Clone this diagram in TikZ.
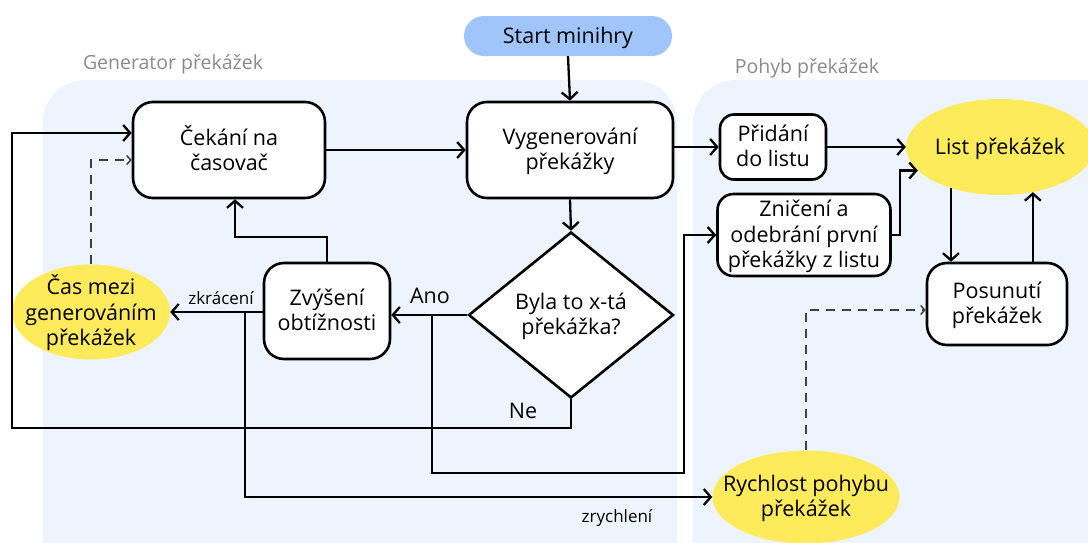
\documentclass[tikz,border=0pt]{standalone}
\usepackage{fontspec}
\setmainfont{Open Sans}
\usetikzlibrary{arrows.meta,shapes.geometric,calc}
\definecolor{regionblue}{HTML}{EEF4FE}
\definecolor{startblue}{HTML}{9FC5FB}
\definecolor{yel}{HTML}{FEEB5C}
\definecolor{labgray}{HTML}{8A8A8A}
\definecolor{dashgray}{HTML}{404040}
\newcommand\nf{\fontsize{21.5}{25.5}\selectfont}
\newcommand\ztext[1]{\smash{\makebox[0pt]{\raisebox{-0.33em}{\begin{tabular}{@{}c@{}}#1\end{tabular}}}}}
\begin{document}
\begin{tikzpicture}[x=1pt,y=-1pt,
  box/.style={draw, line width=2.6pt, rounded corners=20pt, fill=white, font=\nf, inner sep=0pt},
  term/.style={fill=startblue, rounded corners=20pt, font=\nf, inner sep=0pt, minimum width=208pt, minimum height=40pt},
  oval/.style={ellipse, fill=yel, font=\nf, inner sep=0pt},
  dia/.style={diamond, draw, line width=2.6pt, fill=white, font=\nf, inner sep=0pt, minimum width=205pt, minimum height=166pt},
  arr/.style={line width=2.3pt, -{Straight Barb[length=7pt,width=16pt]}},
  darr/.style={line width=1.5pt, dash pattern=on 9pt off 7pt, draw=dashgray, -{Straight Barb[length=4pt,width=9pt]}},
  lab/.style={font=\nf, inner sep=0pt},
  slab/.style={font=\fontsize{17}{20}\selectfont, inner sep=0pt},
  rlab/.style={font=\fontsize{19.5}{22}\selectfont, text=labgray, inner sep=0pt}
]
\useasboundingbox (0,0) rectangle (1088,542);
\begin{scope}
\clip (0,0) rectangle (1088,542);
\fill[regionblue, rounded corners=42pt] (43,80) rectangle (677,620);
\fill[regionblue, rounded corners=42pt] (693,80) rectangle (1140,620);
\end{scope}
\node[rlab] (lgen) at (173,64) {Generator překážek};
\node[rlab] (lpoh) at (807,68) {Pohyb překážek};

% nodes
\node[term] (start) at (568,36) {\ztext{Start minihry}};
\node[box, minimum width=192pt, minimum height=96pt] (wait) at (229,150) {\ztext{Čekání na\\časovač}};
\node[box, minimum width=206pt, minimum height=96pt] (gen) at (570,150) {\ztext{Vygenerování\\překážky}};
\node[dia] (dec) at (571,315) {\ztext{Byla to x-tá\\překážka?}};
\node[box, minimum width=126pt, minimum height=96pt] (inc) at (327,311) {\ztext{Zvýšení\\obtížnosti}};
\node[oval, minimum width=158pt, minimum height=95pt] (cas) at (91,312) {\ztext{Čas mezi\\generováním\\překážek}};
\node[box, rounded corners=14pt, minimum width=106pt, minimum height=65pt] (add) at (773,147) {\ztext{Přidání\\do listu}};
\node[box, rounded corners=16pt, minimum width=173pt, minimum height=82pt] (del) at (804,235) {\ztext{Zničení a\\odebrání první\\překážky z listu}};
\node[oval, minimum width=188pt, minimum height=96pt] (list) at (1000,147) {\ztext{List překážek}};
\node[box, minimum width=140pt, minimum height=82pt] (move) at (997,304) {\ztext{Posunutí\\překážek}};
\node[oval, minimum width=187pt, minimum height=93pt] (speed) at (806,497) {\ztext{Rychlost pohybu\\překážek}};

% connectors
\draw[arr] (start.south) -- (gen.north);
\draw[arr] (wait.east) -- (gen.west);
\draw[arr] (gen.south) -- (dec.north);
\draw[arr] (gen.east |- add.west) -- (add.west);
\draw[arr] (add.east) -- (add.east -| list.west);
\draw[arr] (del.east) -- ++(8,0) |- (list.196);
\draw[arr] (list.220) -- (list.220 |- move.north);
\draw[arr] (list.306 |- move.north) -- (list.306);
% Ano
\draw[arr] (dec.west) -- (dec.west -| inc.east);
\node[lab] (ano) at (430,296) {Ano};
\coordinate (j1) at (432,315);
\draw[arr] (j1) -- (432,473) -| (684,235) -- (del.west);
% Ne
\draw[arr] (dec.south) -- (571,428) -| (12,133) -- ($(wait.west)+(0,-17)$);
\node[lab] (ne) at (523,411) {Ne};
% increase -> wait
\draw[arr] (inc.north) -- (327,237) -| ($(wait.south)+(6,0)$);
% zkraceni
\draw[arr] (inc.west |- cas.east) -- (cas.east);
\node[slab] (zk) at (221,298) {zkrácení};
\coordinate (j2) at (245,312);
\draw[arr] (j2) |- (speed.west);
\node[slab] (zr) at (617,518) {zrychlení};
% dashed
\draw[darr] (cas.north) -- (91,160) -- ($(wait.west)+(0,10)$);
\draw[darr] (speed.north) -- (806,310) -- ($(move.west)+(0,6)$);
\end{tikzpicture}
\end{document}
